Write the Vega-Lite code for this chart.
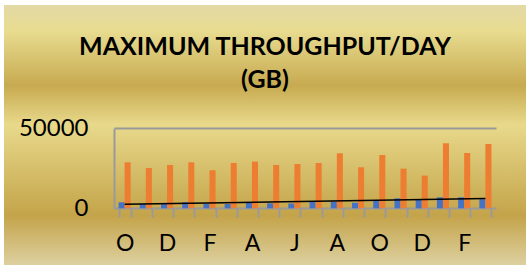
{
  "$schema": "https://vega.github.io/schema/vega-lite/v6.json",
  "width": 522,
  "height": 260,
  "autosize": {"type": "none"},
  "padding": {"left": 4, "top": 5, "right": 2, "bottom": 10},
  "background": "white",
  "config": {
    "font": "Lato",
    "view": {
      "stroke": null,
      "fill": {
        "gradient": "linear",
        "x1": 0, "y1": 0, "x2": 0, "y2": 1,
        "stops": [
          {"offset": 0, "color": "#e3d9a6"},
          {"offset": 0.1, "color": "#e8dc90"},
          {"offset": 0.31, "color": "#c7aa50"},
          {"offset": 0.46, "color": "#e8d98b"},
          {"offset": 0.81, "color": "#c4a44a"},
          {"offset": 1, "color": "#ddd0a0"}
        ]
      }
    }
  },
  "title": {
    "text": ["MAXIMUM THROUGHPUT/DAY", "(GB)"],
    "font": "Lato",
    "fontSize": 25,
    "fontWeight": "bold",
    "color": "black",
    "anchor": "middle",
    "frame": "group",
    "orient": "top",
    "baseline": "top",
    "lineHeight": 33,
    "offset": -88
  },
  "datasets": {
    "bars": [
      {"m": "Oct 2016", "s": "Series1", "v": 3750},
      {"m": "Oct 2016", "s": "Series2", "v": 28750},
      {"m": "Nov 2016", "s": "Series1", "v": 2700},
      {"m": "Nov 2016", "s": "Series2", "v": 25200},
      {"m": "Dec 2016", "s": "Series1", "v": 2700},
      {"m": "Dec 2016", "s": "Series2", "v": 27080},
      {"m": "Jan 2017", "s": "Series1", "v": 3750},
      {"m": "Jan 2017", "s": "Series2", "v": 28750},
      {"m": "Feb 2017", "s": "Series1", "v": 2700},
      {"m": "Feb 2017", "s": "Series2", "v": 23750},
      {"m": "Mar 2017", "s": "Series1", "v": 2700},
      {"m": "Mar 2017", "s": "Series2", "v": 28330},
      {"m": "Apr 2017", "s": "Series1", "v": 3750},
      {"m": "Apr 2017", "s": "Series2", "v": 29170},
      {"m": "May 2017", "s": "Series1", "v": 3100},
      {"m": "May 2017", "s": "Series2", "v": 27080},
      {"m": "Jun 2017", "s": "Series1", "v": 3000},
      {"m": "Jun 2017", "s": "Series2", "v": 27700},
      {"m": "Jul 2017", "s": "Series1", "v": 4170},
      {"m": "Jul 2017", "s": "Series2", "v": 28330},
      {"m": "Aug 2017", "s": "Series1", "v": 4170},
      {"m": "Aug 2017", "s": "Series2", "v": 34375},
      {"m": "Sep 2017", "s": "Series1", "v": 3450},
      {"m": "Sep 2017", "s": "Series2", "v": 25625},
      {"m": "Oct 2017", "s": "Series1", "v": 5200},
      {"m": "Oct 2017", "s": "Series2", "v": 33330},
      {"m": "Nov 2017", "s": "Series1", "v": 6250},
      {"m": "Nov 2017", "s": "Series2", "v": 24790},
      {"m": "Dec 2017", "s": "Series1", "v": 5625},
      {"m": "Dec 2017", "s": "Series2", "v": 20420},
      {"m": "Jan 2018", "s": "Series1", "v": 6875},
      {"m": "Jan 2018", "s": "Series2", "v": 40625},
      {"m": "Feb 2018", "s": "Series1", "v": 6875},
      {"m": "Feb 2018", "s": "Series2", "v": 34580},
      {"m": "Mar 2018", "s": "Series1", "v": 5700},
      {"m": "Mar 2018", "s": "Series2", "v": 40200}
    ],
    "trend": [
      {"m": "Oct 2016", "t": 2480},
      {"m": "Mar 2018", "t": 6050}
    ]
  },
  "layer": [
    {
      "data": {"name": "bars"},
      "mark": {"type": "bar"},
      "encoding": {
        "x": {
          "field": "m",
          "type": "ordinal",
          "sort": null,
          "scale": {"range": [110, 492], "paddingInner": 0.43, "paddingOuter": 0.215},
          "axis": {
            "title": null,
            "orient": "bottom",
            "offset": -56.7,
            "ticks": true,
            "tickBand": "extent",
            "tickSize": 9,
            "tickColor": "#9a9a9a",
            "tickWidth": 2,
            "domain": false,
            "labelExpr": "indexof('OctDecFebAprJunAug', slice(datum.label, 0, 3)) >= 0 ? slice(datum.label, 0, 1) : ''",
            "labelAngle": 0,
            "labelFont": "Lato",
            "labelFontSize": 23,
            "labelColor": "black",
            "labelPadding": 15,
            "labelOverlap": false,
            "grid": false
          }
        },
        "xOffset": {"field": "s", "type": "nominal", "sort": null},
        "y": {
          "field": "v",
          "type": "quantitative",
          "scale": {"domain": [0, 50000], "range": [203.3, 123.3], "nice": false},
          "axis": {
            "title": null,
            "values": [0, 50000],
            "format": "d",
            "offset": -110,
            "ticks": false,
            "tickSize": 0,
            "labelPadding": 26,
            "labelFont": "Lato",
            "labelFontSize": 24,
            "labelColor": "black",
            "domainColor": "#9a9a9a",
            "domainWidth": 2,
            "grid": true,
            "gridColor": "#9a9a9a",
            "gridWidth": 2
          }
        },
        "color": {
          "field": "s",
          "type": "nominal",
          "scale": {"domain": ["Series1", "Series2"], "range": ["#4472c4", "#ed7d31"]},
          "legend": null
        }
      }
    },
    {
      "data": {"name": "trend"},
      "mark": {"type": "line", "color": "black", "strokeWidth": 1.5},
      "encoding": {
        "x": {"field": "m", "type": "ordinal", "sort": null},
        "y": {"field": "t", "type": "quantitative"}
      }
    }
  ]
}
